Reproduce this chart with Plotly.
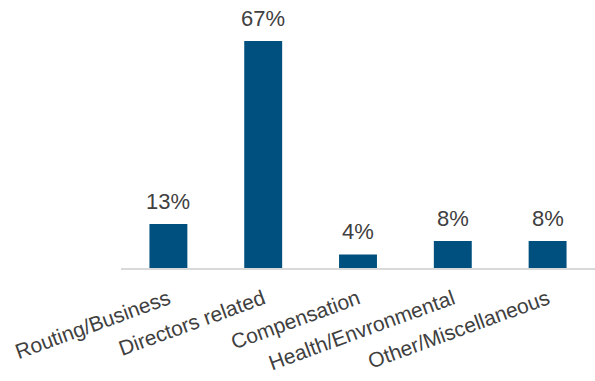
import plotly.graph_objects as go

categories = ["Routing/Business", "Directors related", "Compensation",
              "Health/Envronmental", "Other/Miscellaneous"]
values = [13, 67, 4, 8, 8]
labels = ["13%", "67%", "4%", "8%", "8%"]

BAR = "#00507F"
TXT = "#404040"
FONT = "Liberation Sans, Arial, sans-serif"

fig = go.Figure()
fig.add_trace(go.Bar(x=categories, y=values, marker=dict(color=BAR, line=dict(width=0)),
                     width=0.4, hoverinfo="skip"))

for c, v, t in zip(categories, values, labels):
    fig.add_annotation(x=c, y=v, text=t, showarrow=False, yanchor="bottom",
                       yshift=8, font=dict(family=FONT, size=22, color=TXT))

fig.update_layout(
    width=595, height=381,
    margin=dict(l=121, r=0, t=0, b=113),
    paper_bgcolor="white", plot_bgcolor="white",
    showlegend=False,
    xaxis=dict(showline=True, linecolor="#D9D9D9", linewidth=1.5,
               tickangle=-20, ticks="", showgrid=False, ticklabelstandoff=9,
               tickfont=dict(family=FONT, size=21, color=TXT)),
    yaxis=dict(visible=False, range=[0, 79.1], showgrid=False, zeroline=False),
)

fig.write_html("out.html")
